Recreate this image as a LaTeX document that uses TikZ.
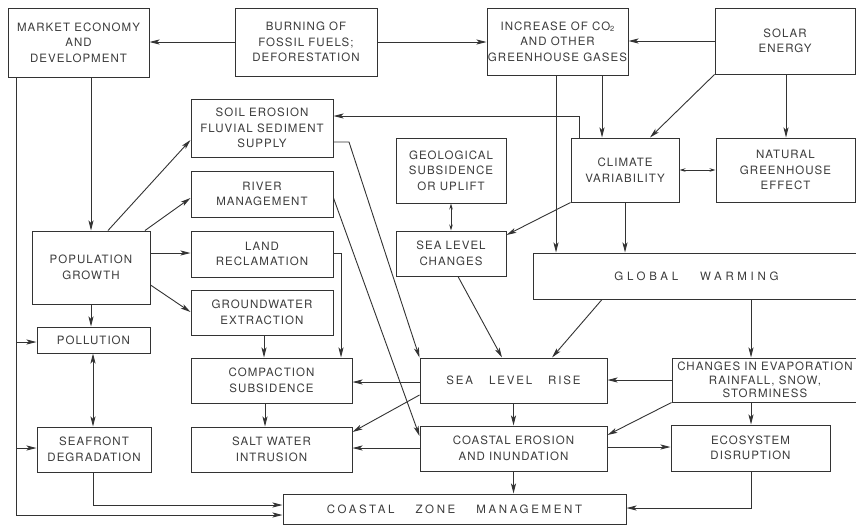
\documentclass[tikz,border=0pt]{standalone}
\usepackage{fontspec}
\setmainfont{TeX Gyre Heros}[LetterSpace=9]
\newfontfamily\wideA{TeX Gyre Heros}[LetterSpace=16]
\newfontfamily\wideB{TeX Gyre Heros}[LetterSpace=32]
\newfontfamily\wideC{TeX Gyre Heros}[LetterSpace=23]
\usetikzlibrary{arrows.meta}
\definecolor{ink}{HTML}{333333}
\definecolor{txt}{HTML}{3C3C3C}
\newcommand{\subtwo}{{\fontsize{7.5}{7.5}\selectfont\raisebox{-1.6pt}{2}}}
\begin{document}
\begin{tikzpicture}[x=1pt,y=-1pt,
  box/.style={draw=ink, line width=1pt, inner sep=0pt, align=center, text=txt,
    font=\fontsize{11.5}{15.5}\selectfont},
  arr/.style={draw=ink, line width=0.9pt, -{Stealth[length=10pt,width=5pt,inset=2.5pt]}},
  dbl/.style={draw=ink, line width=0.9pt, {Stealth[length=10pt,width=5pt,inset=2.5pt]}-{Stealth[length=10pt,width=5pt,inset=2.5pt]}},
  sdbl/.style={draw=ink, line width=0.9pt, {Stealth[length=6pt,width=3.5pt]}-{Stealth[length=6pt,width=3.5pt]}},
  ln/.style={draw=ink, line width=0.9pt}]
\useasboundingbox (0,0) rectangle (856,525);
\fill[white] (0,0) rectangle (856,525);

% boxes
\node[box, minimum width=141pt, minimum height=69pt] (market) at (78.5,42.5) {MARKET ECONOMY\\AND\\DEVELOPMENT};
\node[box, minimum width=142pt, minimum height=68pt] (burning) at (306,42) {BURNING OF\\FOSSIL FUELS;\\DEFORESTATION};
\node[box, minimum width=141pt, minimum height=67pt] (co2) at (557.5,41.5) {INCREASE OF CO\subtwo\\AND OTHER\\GREENHOUSE GASES};
\node[box, minimum width=140pt, minimum height=66pt] (solar) at (785,41) {SOLAR\\ENERGY};
\node[box, minimum width=142pt, minimum height=58pt] (soil) at (262,128) {SOIL EROSION\\FLUVIAL SEDIMENT\\SUPPLY};
\node[box, minimum width=110pt, minimum height=65pt] (geo) at (451,170.5) {GEOLOGICAL\\SUBSIDENCE\\OR UPLIFT};
\node[box, minimum width=108pt, minimum height=64pt] (climate) at (625,170) {CLIMATE\\VARIABILITY};
\node[box, minimum width=139pt, minimum height=64pt] (natural) at (785.5,170) {NATURAL\\GREENHOUSE\\EFFECT};
\node[box, minimum width=142pt, minimum height=46pt] (river) at (262,194) {RIVER\\MANAGEMENT};
\node[box, minimum width=110pt, minimum height=45pt] (slc) at (451,253.5) {SEA LEVEL\\CHANGES};
\node[box, minimum width=142pt, minimum height=46pt] (land) at (262,254) {LAND\\RECLAMATION};
\node[box, minimum width=118pt, minimum height=73pt] (pop) at (91,267.5) {POPULATION\\GROWTH};
\node[box, minimum width=327pt, minimum height=46pt] (gw) at (696.5,276) {\wideB GLOBAL\hspace{22pt}WARMING};
\node[box, minimum width=142pt, minimum height=45pt] (ground) at (262,312.5) {GROUNDWATER\\EXTRACTION};
\node[box, minimum width=113pt, minimum height=26pt] (pollution) at (93.5,340) {POLLUTION};
\node[box, minimum width=161pt, minimum height=45pt] (compaction) at (271.5,380.5) {COMPACTION\\SUBSIDENCE};
\node[box, minimum width=187pt, minimum height=45pt] (slr) at (513.5,380.5) {\wideA SEA\hspace{16pt}LEVEL\hspace{16pt}RISE};
\node[box, minimum width=186pt, minimum height=44pt, font=\fontsize{11.5}{13.5}\selectfont] (evap) at (765,380) {CHANGES IN EVAPORATION\\RAINFALL, SNOW,\\STORMINESS};
\node[box, minimum width=114pt, minimum height=45pt] (seafront) at (94,449.5) {SEAFRONT\\DEGRADATION};
\node[box, minimum width=161pt, minimum height=45pt] (salt) at (271.5,449.5) {SALT WATER\\INTRUSION};
\node[box, minimum width=187pt, minimum height=45pt] (coastal) at (513.5,448.5) {COASTAL EROSION\\AND INUNDATION};
\node[box, minimum width=159pt, minimum height=46pt] (eco) at (750.5,448) {ECOSYSTEM\\DISRUPTION};
\node[box, minimum width=343pt, minimum height=30pt] (czm) at (454.5,509) {\wideC COASTAL\hspace{21pt}ZONE\hspace{21pt}MANAGEMENT};

% top row
\draw[arr] (burning.west) -- (market.east |- burning.west);
\draw[arr] (burning.east) -- (co2.west |- burning.east);
\draw[arr] (solar.west) -- (co2.east |- solar.west);
\draw[arr] (co2.south -| 602,0) -- (climate.north -| 602,0);
\draw[arr] (co2.south -| 556,0) -- (gw.north -| 556,0);
\draw[arr] (solar.south west) -- (climate.north -| 650,0);
\draw[arr] (solar.south -| 786,0) -- (natural.north -| 786,0);
\draw[sdbl] (climate.east) -- (natural.west |- climate.east);
\draw[arr] (climate.north -| 579,0) |- (soil.east |- 0,116);
\draw[arr] (climate.south west) -- (slc.east |- 0,235);
\draw[arr] (climate.south -| 625,0) -- (gw.north -| 625,0);
\draw[sdbl] (geo.south) -- (slc.north);

% middle
\draw[arr] (slc.south -| 458,0) -- (slr.north -| 502,0);
\draw[arr] (gw.south -| 602,0) -- (slr.north -| 552,0);
\draw[arr] (gw.south -| 751,0) -- (evap.north -| 751,0);
\draw[arr] (evap.west |- 0,380) -- (slr.east |- 0,380);
\draw[arr] (evap.south west) -- (coastal.east |- 0,435);
\draw[arr] (evap.south -| 751,0) -- (eco.north -| 751,0);
\draw[arr] (slr.west |- 0,382) -- (compaction.east |- 0,382);
\draw[arr] (slr.west |- 0,395) -- (salt.east |- 0,432);
\draw[arr] (slr.south) -- (coastal.north);
\draw[arr] (coastal.west |- 0,448) -- (salt.east |- 0,448);
\draw[arr] (coastal.east |- 0,447) -- (eco.west |- 0,447);
\draw[arr] (coastal.south) -- (czm.north -| coastal.south);
\draw[arr] (eco.south -| 751,0) |- (czm.east |- 0,508);

% left side
\draw[arr] (market.south -| 91,0) -- (pop.north -| 91,0);
\draw[arr] (market.south -| 16,0) |- (czm.west |- 0,515);
\coordinate (lp) at (16,342);
\coordinate (ls) at (16,448);
\draw[arr] (lp) -- (pollution.west |- lp);
\draw[arr] (ls) -- (seafront.west |- ls);
\draw[arr] (pop.north -| 108,0) -- (soil.west |- 0,140);
\draw[arr] (pop.north -| 145,0) -- (river.west |- 0,198);
\draw[arr] (pop.east |- 0,253) -- (land.west |- 0,253);
\draw[arr] (pop.east |- 0,285) -- (ground.west |- 0,312);
\draw[arr] (pop.south -| 91,0) -- (pollution.north -| 91,0);
\draw[dbl] (pollution.south -| 93,0) -- (seafront.north -| 93,0);
\draw[arr] (seafront.south -| 93,0) |- (czm.west |- 0,505);
\draw[arr] (land.east |- 0,253) -| (compaction.north -| 341,0);
\draw[arr] (ground.south -| 264,0) -- (compaction.north -| 264,0);
\draw[arr] (compaction.south -| 265,0) -- (salt.north -| 265,0);
\draw[arr] (soil.east |- 0,142) -- (349,142) -- (slr.north west);
\draw[arr] (river.east |- 0,198) -- (coastal.west |- 0,436);
\end{tikzpicture}
\end{document}
